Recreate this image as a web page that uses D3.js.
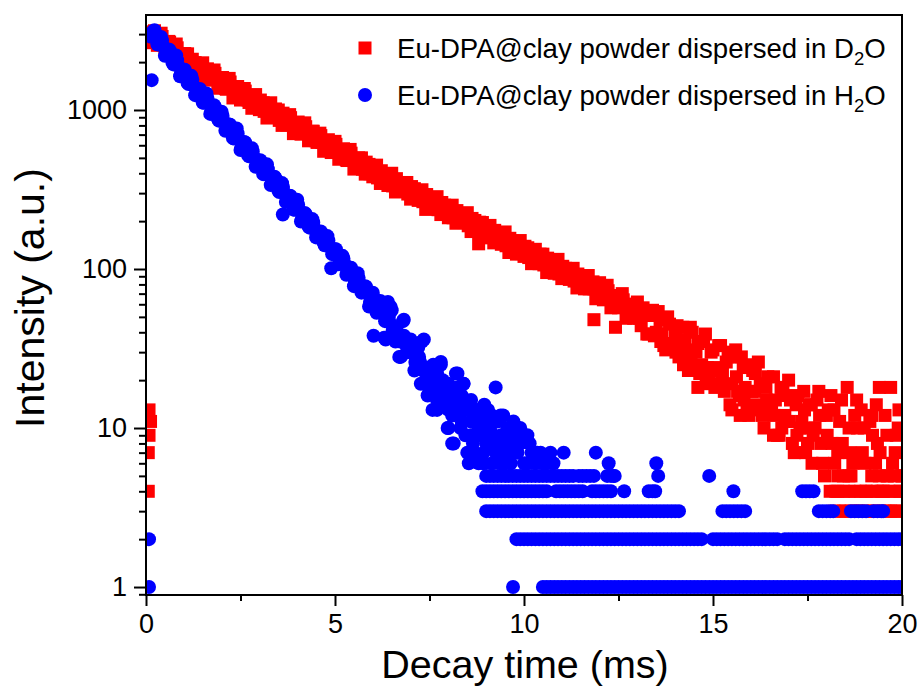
<!DOCTYPE html>
<html>
<head>
<meta charset="utf-8">
<script src="https://cdn.jsdelivr.net/npm/d3@7/dist/d3.min.js"></script>
<style>
  body { margin: 0; background: #fff; }
  text { font-family: "Liberation Sans", Arial, sans-serif; fill: #000; }
</style>
</head>
<body>
<div id="plot"></div>
<script>
// ---- data: [time (ms), intensity (counts)] ----

// Eu-DPA@clay in D2O (red squares)
const d2oEarly = [[0.06,4],[0.06,7],[0.08,9],[0.12,11],[0.08,13]];
const d2oDecay = [
 [0.1,2650],[0.2,3100],[0.3,2550],[0.4,3040],[0.5,2420],[0.6,2700],[0.7,2110],[0.8,2600],[0.9,2140],[1.0,1910],
 [1.1,2255],[1.2,1830],[1.3,1985],[1.4,1595],[1.5,1980],[1.6,1560],[1.7,1675],[1.8,1785],[1.9,1370],[2.0,1600],
 [2.1,1370],[2.2,1580],[2.3,1190],[2.4,1365],[2.5,1155],[2.6,1365],[2.7,1155],[2.8,1025],[2.9,1250],[3.0,1005],
 [3.1,1110],[3.2,890],[3.3,1110],[3.4,905],[3.5,1000],[3.6,800],[3.7,890],[3.8,935],[3.9,710],[4.0,820],
 [4.1,705],[4.2,830],[4.3,640],[4.4,735],[4.5,640],[4.6,715],[4.7,550],[4.8,630],[4.9,540],[5.0,635],
 [5.1,490],[5.2,565],[5.3,485],[5.4,565],[5.5,425],[5.6,475],[5.7,500],[5.8,395],[5.9,455],[6.0,380],
 [6.1,450],[6.2,345],[6.3,395],[6.4,335],[6.5,400],[6.6,305],[6.7,350],[6.8,310],[6.9,350],[7.0,275],
 [7.1,320],[7.2,270],[7.3,315],[7.4,237],[7.5,278],[7.6,241],[7.7,285],[7.8,220],[7.9,252],[8.0,210],
 [8.1,252],[8.2,194],[8.3,220],[8.4,196],[8.5,226],[8.6,172],[8.7,202],[8.8,144],[8.9,196],[9.0,161],
 [9.1,188],[9.2,146],[9.3,167],[9.4,143],[9.5,171],[9.6,127],[9.7,150],[9.8,124],[9.9,151],[10.0,120],
 [10.1,136],[10.2,108],[10.3,133],[10.4,108],[10.5,124],[10.6,95],[10.7,111],[10.8,94],[10.9,115],[11.0,87],
 [11.1,101],[11.2,86],[11.3,101],[11.4,76],[11.5,88],[11.6,75],[11.7,91],[11.8,77],[11.9,65],[12.0,82],
 [12.1,64],[12.2,79],[12.3,57],[12.4,68],[12.5,57],[12.6,70],[12.7,49],[12.8,60],[12.9,49],[13.0,62],
 [13.1,44],[13.2,51],[13.3,39],[13.4,55],[13.5,40],[13.6,48],[13.7,33],[13.8,50],[13.9,34],[14.0,41],
 [14.1,28],[14.2,43],[14.3,31],[14.4,43],[14.5,24],[14.6,34],[14.7,25],[14.8,39],[14.9,20],[15.0,31],
 [15.1,23],[15.2,33],[15.3,17],[15.4,28],[15.5,19],[15.6,31],[15.7,16],[15.8,24],[15.9,13],[16.0,25],
 [16.1,17],[16.2,26],[16.3,12],[16.4,18],[16.5,13],[16.6,21],[16.7,9],[16.8,18],[16.9,12],[17.0,20],
 [17.1,8],[17.2,14],[17.3,10],[17.4,17],[17.5,8],[17.6,14],[17.7,10],[17.8,17],[17.9,6],[18.0,12],
 [18.1,4],[18.2,13],[18.3,7],[18.4,15],[18.5,3],[18.6,10],[18.7,6],[18.8,15],[18.9,4],[19.0,10],
 [19.1,3],[19.2,12],[19.3,6],[19.4,18],[19.5,4],[19.6,9],[19.7,18],[19.8,3],[19.9,10],[20.0,5]
];
// in-between samples
const d2oMid = [
 [0.15,2920],[0.25,2890],[0.35,2780],[0.45,2620],[0.55,2560],[0.65,2430],[0.75,2380],[0.85,2230],[0.95,2170],[1.05,2050],
 [1.15,2010],[1.25,1880],[1.35,1860],[1.45,1760],[1.55,1740],[1.65,1650],[1.75,1600],[1.85,1590],[1.95,1490],[2.05,1480],
 [2.15,1400],[2.25,1390],[2.35,1310],[2.45,1300],[2.55,1240],[2.65,1200],[2.75,1185],[2.85,1120],[2.95,1110],[3.05,1050],
 [3.15,1040],[3.25,985],[3.35,975],[3.45,925],[3.55,915],[3.65,865],[3.75,855],[3.85,815],[3.95,805],[4.05,760],
 [4.15,755],[4.25,715],[4.35,705],[4.45,670],[4.55,665],[4.65,625],[4.75,620],[4.85,590],[4.95,580],[5.05,550],
 [5.15,545],[5.25,515],[5.35,510],[5.45,485],[5.55,478],[5.65,455],[5.75,450],[5.85,428],[5.95,420],[6.05,400],
 [6.15,397],[6.25,378],[6.35,373],[6.45,356],[6.55,354],[6.65,338],[6.75,333],[6.85,318],[6.95,315],[7.05,300],
 [7.15,297],[7.25,283],[7.35,281],[7.45,267],[7.55,265],[7.65,252],[7.75,250],[7.85,238],[7.95,236],[8.05,225],
 [8.15,223],[8.25,212],[8.35,211],[8.45,200],[8.55,199],[8.65,190],[8.75,188],[8.85,178],[8.95,177],[9.05,168],
 [9.15,167],[9.25,159],[9.35,158],[9.45,150],[9.55,149],[9.65,142],[9.75,141],[9.85,134],[9.95,133],[10.05,126],
 [10.15,125],[10.25,119],[10.35,118],[10.45,112],[10.55,112],[10.65,106],[10.75,105],[10.85,100],[10.95,99],[11.05,95],
 [11.15,94],[11.25,90],[11.35,88],[11.45,85],[11.55,84],[11.65,80],[11.75,79],[11.85,75],[11.95,75],[12.05,71],
 [12.15,70],[12.25,66],[12.35,66],[12.45,62],[12.55,62],[12.65,58],[12.75,58],[12.85,54],[12.95,53]
];
const d2oQuarter = [
 [0.125,2840],[0.225,3150],[0.325,2650],[0.425,2900],[0.525,2440],[0.625,2670],[0.725,2245],[0.825,2460],[0.925,2065],[1.025,2265],
 [1.125,1900],[1.225,2085],[1.325,1750],[1.425,1940],[1.525,1640],[1.625,1815],[1.725,1540],[1.825,1700],[1.925,1440],[2.025,1600],
 [2.125,1350],[2.225,1500],[2.325,1265],[2.425,1405],[2.525,1190],[2.625,1315],[2.725,1115],[2.825,1235],[2.925,1045],[3.025,1155],
 [3.125,980],[3.225,1085],[3.325,920],[3.425,1015],[3.525,860],[3.625,955],[3.725,805],[3.825,895],[3.925,755],[4.025,840],
 [4.125,710],[4.225,785],[4.325,665],[4.425,735],[4.525,625],[4.625,690],[4.725,585],[4.825,650],[4.925,548],[5.025,608],
 [5.125,515],[5.225,570],[5.325,481],[5.425,535],[5.525,452],[5.625,500],[5.725,424],[5.825,470],[5.925,397],[6.025,440],
 [6.125,374],[6.225,415],[6.325,352],[6.425,392],[6.525,333],[6.625,370],[6.725,314],[6.825,350],[6.925,296],[7.025,330],
 [7.125,280],[7.225,311],[7.325,265],[7.425,294],[7.525,250],[7.625,277],[7.725,236],[7.825,262],[7.925,222],[8.025,247],
 [8.125,210],[8.225,233],[8.325,198],[8.425,220],[8.525,187],[8.625,208],[8.725,177],[8.825,197],[8.925,166],[9.025,185],
 [9.125,157],[9.225,175],[9.325,149],[9.425,166],[9.525,140],[9.625,156],[9.725,133],[9.825,148],[9.925,125],[10.025,139],
 [10.125,118],[10.225,131],[10.325,111],[10.425,124],[10.525,106],[10.625,117],[10.725,99],[10.825,110],[10.925,93],[11.025,104],
 [11.125,89],[11.225,98],[11.325,84],[11.425,93],[11.525,79],[11.625,88],[11.725,75],[11.825,83],[11.925,70],[12.025,78],
 [12.125,66],[12.225,73],[12.325,62],[12.425,68],[12.525,58],[12.625,64],[12.725,54],[12.825,60],[12.925,51]
];
const d2oTail = [
 [13.05,49],[13.15,57],[13.25,39],[13.35,51],[13.45,38],[13.55,54],[13.65,39],[13.75,31],[13.85,45],[13.95,34],
 [14.05,44],[14.15,29],[14.25,36],[14.35,23],[14.45,40],[14.55,30],[14.65,22],[14.75,35],[14.85,24],[14.95,30],
 [15.05,18],[15.15,33],[15.25,22],[15.35,26],[15.45,14],[15.55,28],[15.65,17],[15.75,28],[15.85,18],[15.95,12],
 [16.05,23],[16.15,14],[16.25,19],[16.35,10],[16.45,21],[16.55,14],[16.65,15],[16.75,9],[16.85,18],[16.95,11],
 [17.05,15],[17.15,7],[17.25,16],[17.35,11],[17.45,7],[17.55,14],[17.65,9],[17.75,15],[17.85,8],[17.95,5],
 [18.05,13],[18.15,8],[18.25,4],[18.35,11],[18.45,3],[18.55,18],[18.65,5],[18.75,12],[18.85,3],[18.95,7],
 [19.05,4],[19.15,11],[19.25,3],[19.35,8],[19.45,4],[19.55,12],[19.65,3],[19.75,6],[19.85,9],[19.95,4],
 [11.85,48],[12.42,43],[14.6,18],[15.5,13],[16.6,9],
 [15.02,24],[15.22,19],[15.42,30],[15.62,21],[15.82,15],[16.02,17],[16.22,13],[16.42,15],[16.62,12],[16.82,10],
 [17.02,11],[17.22,9],[17.42,13],[17.62,6],[17.82,12],[18.02,9],[18.22,6],[18.42,8],[18.62,7],[18.82,10],
 [19.02,6],[19.22,9],[19.42,7],[19.62,5],[19.82,7],[16.12,22],[16.92,16],[17.52,10],[18.12,16],[18.92,13],
 [19.32,14],[19.92,13],[15.72,12],[14.42,26],[14.82,19],[14.02,30],[13.62,35],[14.22,25]
];
const d2oLowCounts = [
 [18.2,3],[18.35,3],[18.65,3],[18.8,3],[18.95,3],[19.25,3],[19.4,3],[19.55,3],[19.7,3],[19.85,3],[20.0,3],
 [18.3,4],[18.45,4],[18.6,4],[18.75,4],[19.05,4],[19.2,4],[19.35,4],[19.5,4],[19.65,4],[19.8,4],[19.95,4],
 [18.3,5],[18.45,5],[18.6,5],[19.2,5],[19.4,5],[19.6,5],[19.8,5],[20.0,5]
];

// Eu-DPA@clay in H2O (blue circles)
const h2oDecay = [
 [0.1,2950],[0.2,3140],[0.3,2590],[0.4,2880],[0.5,2195],[0.6,2405],[0.7,1985],[0.8,2205],[0.9,1630],[1.0,1790],
 [1.1,1480],[1.2,1640],[1.3,1240],[1.4,1345],[1.5,1115],[1.6,1270],[1.7,945],[1.8,1070],[1.9,880],[2.0,975],
 [2.1,740],[2.2,810],[2.3,665],[2.4,765],[2.5,560],[2.6,630],[2.7,520],[2.8,575],[2.9,440],[3.0,480],
 [3.1,395],[3.2,455],[3.3,337],[3.4,380],[3.5,313],[3.6,347],[3.7,264],[3.8,289],[3.9,237],[4.0,273],
 [4.1,199],[4.2,225],[4.3,185],[4.4,206],[4.5,158],[4.6,171],[4.7,146],[4.8,161],[4.9,101],[5.0,133],
 [5.1,107],[5.2,121],[5.3,92],[5.4,102],[5.5,78],[5.6,94],[5.7,71],[5.8,78],[5.9,58],[6.0,71],
 [6.1,53],[6.2,63],[6.3,37],[6.4,62],[6.5,55],[6.6,35],[6.7,28],[6.8,47],[6.9,30],[7.0,36],
 [7.1,23],[7.2,32],[7.3,35],[7.4,23],[7.5,17],[7.6,25],[7.7,13],[7.8,25],[7.9,18],[8.0,10],
 [8.1,8],[8.2,22],[8.3,12],[8.4,19]
];
const h2oMid = [
 [0.15,3050],[0.25,2915],[0.35,2713],[0.45,2526],[0.55,2352],[0.65,2190],[0.75,2039],[0.85,1899],[0.95,1768],[1.05,1646],
 [1.15,1533],[1.25,1427],[1.35,1333],[1.45,1250],[1.55,1172],[1.65,1099],[1.75,1030],[1.85,966],[1.95,905],[2.05,849],
 [2.15,796],[2.25,747],[2.35,700],[2.45,656],[2.55,615],[2.65,577],[2.75,541],[2.85,507],[2.95,475],[3.05,446],
 [3.15,418],[3.25,392],[3.35,367],[3.45,344],[3.55,323],[3.65,303],[3.75,284],[3.85,266],[3.95,250],[4.05,234],
 [4.15,219],[4.25,205],[4.35,193],[4.45,181],[4.55,169],[4.65,159],[4.75,149],[4.85,139],[4.95,131],[5.05,123],
 [5.15,115],[5.25,108],[5.35,101],[5.45,94],[5.55,87],[5.65,81],[5.75,76],[5.85,71],[5.95,66],[6.05,61],
 [6.15,57],[6.25,53],[6.35,49],[6.45,46],[6.55,43],[6.65,40],[6.75,37],[6.85,34],[6.95,32],[7.05,30],
 [7.15,28],[7.25,26],[7.35,24],[7.45,22],[7.55,21],[7.65,19],[7.75,18],[7.85,17],[7.95,16],[8.05,15],
 [8.15,14],[8.25,13]
];
const h2oQuarter = [
 [0.125,2900],[0.225,3170],[0.325,2580],[0.425,2740],[0.525,2230],[0.625,2380],[0.725,1935],[0.825,2060],[0.925,1680],[1.025,1790],
 [1.125,1455],[1.225,1550],[1.325,1260],[1.425,1355],[1.525,1110],[1.625,1190],[1.725,975],[1.825,1045],[1.925,857],[2.025,920],
 [2.125,753],[2.225,808],[2.325,662],[2.425,711],[2.525,582],[2.625,625],[2.725,511],[2.825,549],[2.925,450],[3.025,483],
 [3.125,396],[3.225,425],[3.325,347],[3.425,373],[3.525,305],[3.625,328],[3.725,268],[3.825,288],[3.925,236],[4.025,254],
 [4.125,207],[4.225,222],[4.325,182],[4.425,196],[4.525,160],[4.625,172],[4.725,141],[4.825,151],[4.925,124],[5.025,133],
 [5.125,109],[5.225,116],[5.325,96],[5.425,102],[5.525,83],[5.625,88],[5.725,72],[5.825,77],[5.925,62],[6.025,66],
 [6.125,54],[6.225,58],[6.325,47],[6.425,50],[6.525,41],[6.625,43],[6.725,35],[6.825,38],[6.925,30],[7.025,33],
 [7.125,26],[7.225,28],[7.325,23],[7.425,24],[7.525,20],[7.625,21],[7.725,17],[7.825,19],[7.925,15],[8.025,16],
 [8.125,13],[8.225,14]
];
const h2oScatter = [
 [0.08,1],[0.08,2],[0.15,1540],[3.62,220],[6.02,38],
 [6.34,36],[6.47,58],[6.82,48],[6.74,28],[7.35,36],[7.27,24],[7.8,26],[8.24,22],
 [7.27,19],[7.6,17],[8.24,18],[8.4,19],[9.25,18],
 [7.58,13],[7.98,10],[8.14,8],[8.5,7],[8.54,6],
 [8.77,13],[9.03,12],[9.38,12],[9.72,11],[10.09,9],[10.44,7],[11.05,7],[11.9,7],[12.24,6],
 [8.32,10],[8.77,9],[9.3,8],[9.56,8],[8.93,7],[9.38,6],[9.83,7],[10.09,6],[10.78,6],[8.85,11],[9.56,10],[9.83,9],
 [8.0,13],[8.5,13],[8.6,11],[8.45,9],[9.1,10],[9.2,9],[8.7,7],[9.0,8],[9.65,6],[10.3,6],[10.5,6],[9.45,7],[10.2,7],[8.93,6],
 [13.5,6],[13.55,5],[14.9,5],[12.37,5],
 [7.7,15],[7.9,14],[8.1,12],[8.3,14],[8.35,11],[8.6,9],[8.65,8],[8.8,10],[8.9,9],[9.0,11],
 [9.1,8],[9.15,12],[9.3,11],[9.4,9],[9.5,8],[9.6,9],[9.7,8],[9.75,7],[9.9,8],[10.0,6],
 [10.15,8],[10.35,7],[10.6,6],[10.7,7],[8.7,12],[8.95,14],[9.05,13],[8.35,16],[8.1,16],[7.85,20],
 [8.6,15],[7.45,16],[7.7,22],[8.0,19],[9.45,12],[9.9,10],[9.25,7],[8.8,6],[9.5,6],[9.15,6]
];
// times at which the H2O trace sits on a single count level
const h2oAt5 = [9.0,9.1,9.2,9.3,9.4,9.5,9.6,9.7,9.8,9.9,10.0,10.1,10.2,10.3,10.4,10.5,10.6,10.7,10.8,10.9,11.0,11.1,11.2,11.3,
 11.45,11.55,11.65,11.75,11.85,12.2,12.3,12.4];
const h2oAt4 = [8.9,9.0,9.1,9.2,9.3,9.4,9.5,9.6,9.7,9.8,9.9,10.0,10.1,10.2,10.3,10.4,10.5,10.6,
 10.85,10.95,11.05,11.15,11.25,11.35,11.45,11.55,11.8,11.9,12.0,12.1,12.2,12.3,12.65,13.3,13.4,13.47,15.54,
 17.36,17.46,17.56,17.66];
const h2oAt3 = [9.0,9.1,9.2,9.3,9.4,9.5,9.6,9.7,9.8,9.9,10.0,10.1,10.2,10.3,10.4,10.5,10.6,10.7,10.8,10.9,
 11.0,11.1,11.2,11.3,11.4,11.5,11.6,11.7,11.8,11.9,12.0,12.1,12.2,12.3,12.4,12.5,12.6,12.7,12.8,12.9,
 13.0,13.1,13.2,13.3,13.4,13.5,13.6,13.7,13.8,13.9,14.0,14.1,
 15.25,15.35,15.45,15.55,15.65,15.75,15.85,17.8,17.9,18.0,18.1,18.18,18.65,18.75,18.85,18.95,19.05,
 19.25,19.35,19.45,19.5];
const h2oAt2 = [9.8,9.9,10.0,10.1,10.2,10.3,10.4,10.5,10.6,10.7,10.8,10.9,11.0,11.1,11.2,11.3,11.4,11.5,11.6,11.7,
 11.8,11.9,12.0,12.1,12.2,12.3,12.4,12.5,12.6,12.7,12.8,12.9,13.0,13.1,13.2,13.3,13.4,13.5,13.6,13.7,
 13.8,13.9,14.0,14.1,14.2,14.3,14.4,14.5,14.6,14.7,
 15.0,15.1,15.2,15.3,15.4,15.5,15.6,15.7,15.8,15.9,16.0,16.1,16.2,16.3,16.4,16.5,16.6,16.7,
 16.9,17.0,17.1,17.2,17.3,17.4,17.5,17.6,17.7,17.8,17.9,18.0,18.1,18.2,18.3,18.4,18.5,18.6,
 18.8,18.9,19.0,19.1,19.2,19.3,19.4,19.5,19.6,19.7,19.8,19.9,20.0];
const h2oAt1 = [9.71,10.5,10.6,10.7,10.8,10.9,11.0,11.1,11.2,11.3,11.4,11.5,11.6,11.7,11.8,11.9,12.0,12.1,12.2,12.3,
 12.4,12.5,12.6,12.7,12.8,12.9,13.0,13.1,13.2,13.3,13.4,13.5,13.6,13.7,13.8,13.9,14.0,14.1,14.2,14.3,
 14.4,14.5,14.6,14.7,14.8,14.9,15.0,15.1,15.2,15.3,15.4,15.5,15.6,15.7,15.8,15.9,16.0,16.1,16.2,16.3,
 16.4,16.5,16.6,16.7,16.8,16.9,17.0,17.1,17.2,17.3,17.4,17.5,17.6,17.7,17.8,17.9,18.0,18.1,18.2,18.3,
 18.4,18.5,18.6,18.7,18.8,18.9,19.0,19.1,19.2,19.3,19.4,19.5,19.6,19.7,19.8,19.9,20.0];

// axes
const xMajorTicks = [0,5,10,15,20];
const xMinorTicks = [2.5,7.5,12.5,17.5];
const yMajorTicks = [1,10,100,1000];
const yMinorTicks = [0.9,2,3,4,5,6,7,8,9,20,30,40,50,60,70,80,90,200,300,400,500,600,700,800,900,2000,3000];

const legendLabels = [
  {pre: 'Eu-DPA@clay powder dispersed in D', sub: '2', post: 'O'},
  {pre: 'Eu-DPA@clay powder dispersed in H', sub: '2', post: 'O'}
];

window.addEventListener('load', main);

function main(){
  let [figWidth, figHeight] = [921, 698];
  let svg = d3.select('#plot').append('svg')
              .attr('width', figWidth)
              .attr('height', figHeight)
              .style('background', '#fff');

  let [left, right, top, bottom] = [146, 902, 15, 595];
  let scX = d3.scaleLinear().domain([0, 20]).range([left, right]);
  let scY = d3.scaleLog().domain([0.891, 3957]).range([bottom, top]);

  svg.append('clipPath').attr('id', 'plotArea')
     .append('rect').attr('x', left).attr('y', top)
     .attr('width', right - left).attr('height', bottom - top);

  let d2oPoints = d2oEarly.concat(d2oDecay, d2oMid, d2oQuarter, d2oTail, d2oLowCounts);
  let levelRows = [[1, h2oAt1], [2, h2oAt2], [3, h2oAt3], [4, h2oAt4], [5, h2oAt5]];
  let h2oPoints = h2oDecay.concat(h2oMid, h2oQuarter, h2oScatter);
  levelRows.forEach(([count, times]) => times.forEach(t => h2oPoints.push([t, count])));

  let side = 13, rad = 7;
  let marks = svg.append('g').attr('clip-path', 'url(#plotArea)');

  marks.append('g').attr('fill', '#ff0000')
       .selectAll('rect').data(d2oPoints).join('rect')
       .attr('x', d => scX(d[0]) - side / 2)
       .attr('y', d => scY(d[1]) - side / 2)
       .attr('width', side).attr('height', side);

  marks.append('g').attr('fill', '#0000ff')
       .selectAll('circle').data(h2oPoints).join('circle')
       .attr('cx', d => scX(d[0]))
       .attr('cy', d => scY(d[1]))
       .attr('r', rad);

  // axes: major + minor ticks, no domain line (frame drawn separately)
  let styleAxis = g => {
    g.select('.domain').remove();
    g.selectAll('line').attr('stroke', '#000').attr('stroke-width', 2);
    g.selectAll('text').style('font-size', '27px').attr('fill', '#000');
  };

  svg.append('g').attr('transform', `translate(0,${bottom})`)
     .call(d3.axisBottom(scX).tickValues(xMajorTicks).tickSizeInner(11).tickSizeOuter(0).tickPadding(8))
     .call(styleAxis);
  svg.append('g').attr('transform', `translate(0,${bottom})`)
     .call(d3.axisBottom(scX).tickValues(xMinorTicks).tickSizeInner(6).tickSizeOuter(0).tickFormat(''))
     .call(styleAxis);

  svg.append('g').attr('transform', `translate(${left},0)`)
     .call(d3.axisLeft(scY).tickValues(yMajorTicks).tickFormat(d3.format('d'))
             .tickSizeInner(12).tickSizeOuter(0).tickPadding(7))
     .call(styleAxis);
  svg.append('g').attr('transform', `translate(${left},0)`)
     .call(d3.axisLeft(scY).tickValues(yMinorTicks).tickFormat('').tickSizeInner(7).tickSizeOuter(0))
     .call(styleAxis);

  svg.append('rect')
     .attr('x', left).attr('y', top)
     .attr('width', right - left).attr('height', bottom - top)
     .attr('fill', 'none').attr('stroke', '#000').attr('stroke-width', 2);

  // axis titles
  svg.append('text')
     .attr('x', 525).attr('y', 678)
     .attr('text-anchor', 'middle')
     .style('font-size', '39.5px')
     .text('Decay time (ms)');

  svg.append('text')
     .attr('transform', `translate(44,298) rotate(-90)`)
     .attr('text-anchor', 'middle')
     .style('font-size', '41px')
     .text('Intensity (a.u.)');

  // legend
  let legend = svg.append('g');
  let rowY = [48, 95];
  legend.append('rect')
        .attr('x', 365 - side / 2).attr('y', rowY[0] - side / 2)
        .attr('width', side).attr('height', side).attr('fill', '#ff0000');
  legend.append('circle')
        .attr('cx', 365).attr('cy', rowY[1]).attr('r', rad).attr('fill', '#0000ff');

  legendLabels.forEach((lab, i) => {
    let t = legend.append('text')
                  .attr('x', 397).attr('y', rowY[i] + 10)
                  .style('font-size', '27.6px');
    t.append('tspan').text(lab.pre);
    t.append('tspan').attr('dy', 7).style('font-size', '18.5px').text(lab.sub);
    t.append('tspan').attr('dy', -7).text(lab.post);
  });
}
</script>
</body>
</html>
